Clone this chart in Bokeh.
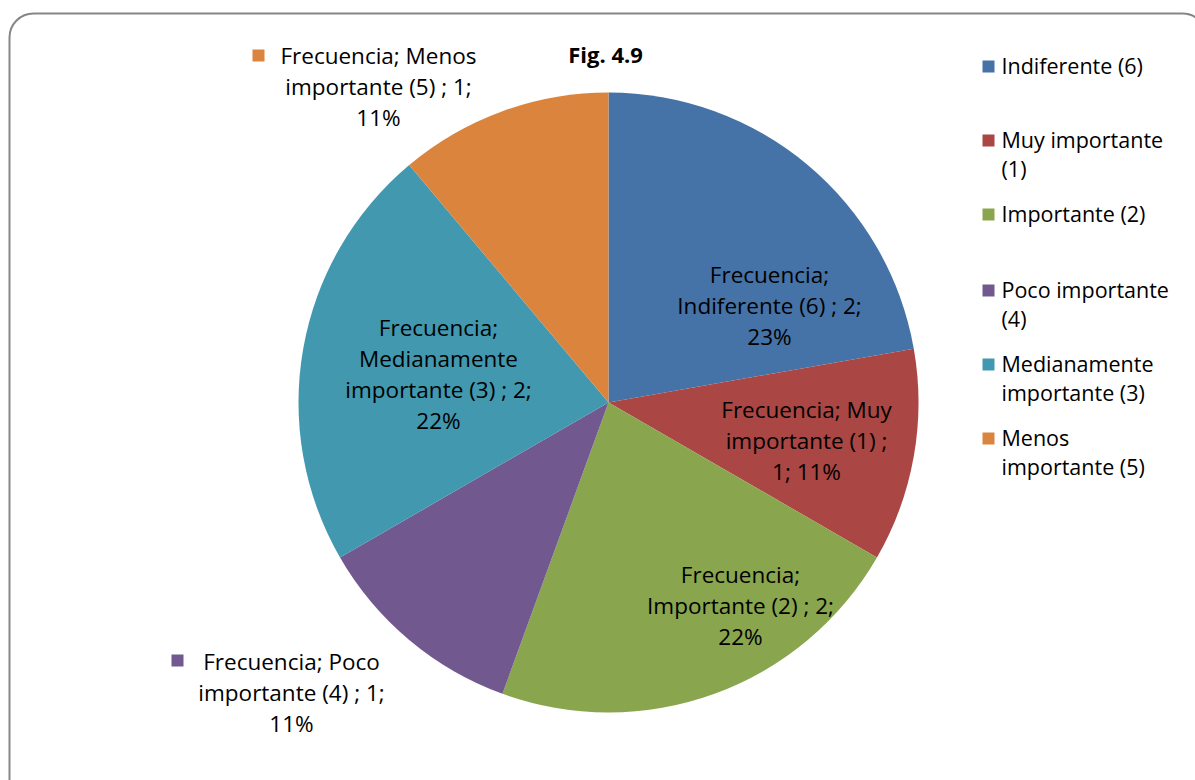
import numpy as np
from bokeh.plotting import figure
from bokeh.models import Range1d, BoxAnnotation, ColumnDataSource
from bokeh.core.properties import value
from bokeh.embed import file_html
from bokeh.resources import INLINE

# ---- data ----
categories = ["Indiferente (6)", "Muy importante (1)", "Importante (2)",
              "Poco importante (4)", "Medianamente importante (3)", "Menos importante (5)"]
frecuencia = [2, 1, 2, 1, 2, 1]
percent_labels = ["23%", "11%", "22%", "11%", "22%", "11%"]
colors = ["#4572A7", "#AA4643", "#89A54E", "#71588F", "#4198AF", "#DB843D"]
legend_text = ["Indiferente (6)", "Muy importante\n(1)", "Importante (2)",
               "Poco importante\n(4)", "Medianamente\nimportante (3)", "Menos\nimportante (5)"]
label_text = [
    "Frecuencia;\nIndiferente (6) ; 2;\n23%",
    "Frecuencia; Muy\nimportante (1) ;\n1; 11%",
    "Frecuencia;\nImportante (2) ; 2;\n22%",
    "Frecuencia; Poco\nimportante (4) ; 1;\n11%",
    "Frecuencia;\nMedianamente\nimportante (3) ; 2;\n22%",
    "Frecuencia; Menos\nimportante (5) ; 1;\n11%",
]
title = "Fig. 4.9"

# ---- layout ----
W, H = 1195, 780
FONT = "Open Sans"
FS = "22.5px"
LH = 1.0
def sx(X):  # screen px -> data
    return X
def sy(Y):
    return H - Y

p = figure(width=W, height=H, output_backend="svg", toolbar_location=None,
           x_range=Range1d(0, W), y_range=Range1d(0, H), min_border=0)
p.axis.visible = False
p.grid.visible = False
p.outline_line_color = None
p.background_fill_color = "white"
p.border_fill_color = "white"

# chart-area frame with rounded corners
p.add_layout(BoxAnnotation(left=sx(9), right=sx(1206), top=sy(13), bottom=sy(830),
                           fill_color=None, fill_alpha=0, line_color="#868686",
                           line_alpha=1.0, line_width=2, border_radius=24))

# ---- pie ----
vals = np.array(frecuencia, dtype=float)
frac = vals / vals.sum()
cum = np.concatenate([[0], np.cumsum(frac)])
start = np.pi / 2 - cum[:-1] * 2 * np.pi
end = np.pi / 2 - cum[1:] * 2 * np.pi
cx, cy, R = sx(608), sy(402), 310
src = ColumnDataSource(dict(start=start, end=end, color=colors, cat=categories))
p.wedge(x=cx, y=cy, radius=R, start_angle="start", end_angle="end",
        direction="clock", fill_color="color", line_color=None, source=src)

# ---- data labels (layout anchors in screen px, centre of text block) ----
label_pos = [(769, 305), (806, 440), (740, 605), (291, 692), (438, 373), (378, 86)]
lx = [sx(a) for a, b in label_pos]
ly = [sy(b) for a, b in label_pos]
p.text(x=lx, y=ly, text=label_text, text_align="center", text_baseline="middle",
       text_font=value(FONT), text_font_size=FS, text_color="#000000",
       text_line_height=LH)

# legend keys attached to the two outside labels
key_pos = [(177, 660, 3), (258, 55, 5)]
p.rect(x=[sx(a) for a, b, i in key_pos], y=[sy(b) for a, b, i in key_pos],
       width=12, height=12, fill_color=[colors[i] for a, b, i in key_pos], line_color=None)

# ---- title ----
p.text(x=[sx(605)], y=[sy(53)], text=[title], text_align="center", text_baseline="middle",
       text_font=value(FONT), text_font_size="22px", text_font_style="bold", text_color="#000000")

# ---- legend ----
leg_first_line = [66, 140, 214, 290, 364, 438]
p.rect(x=[sx(988)] * 6, y=[sy(v) for v in leg_first_line], width=12, height=12,
       fill_color=colors, line_color=None)
p.text(x=[sx(1001)] * 6, y=[sy(v) for v in leg_first_line], text=legend_text,
       text_align="left", text_baseline="top", text_font=value(FONT),
       text_font_size="21.5px", text_color="#000000", text_line_height=LH,
       y_offset=[-16] * 6)

open("out.html", "w").write(file_html(p, INLINE))
